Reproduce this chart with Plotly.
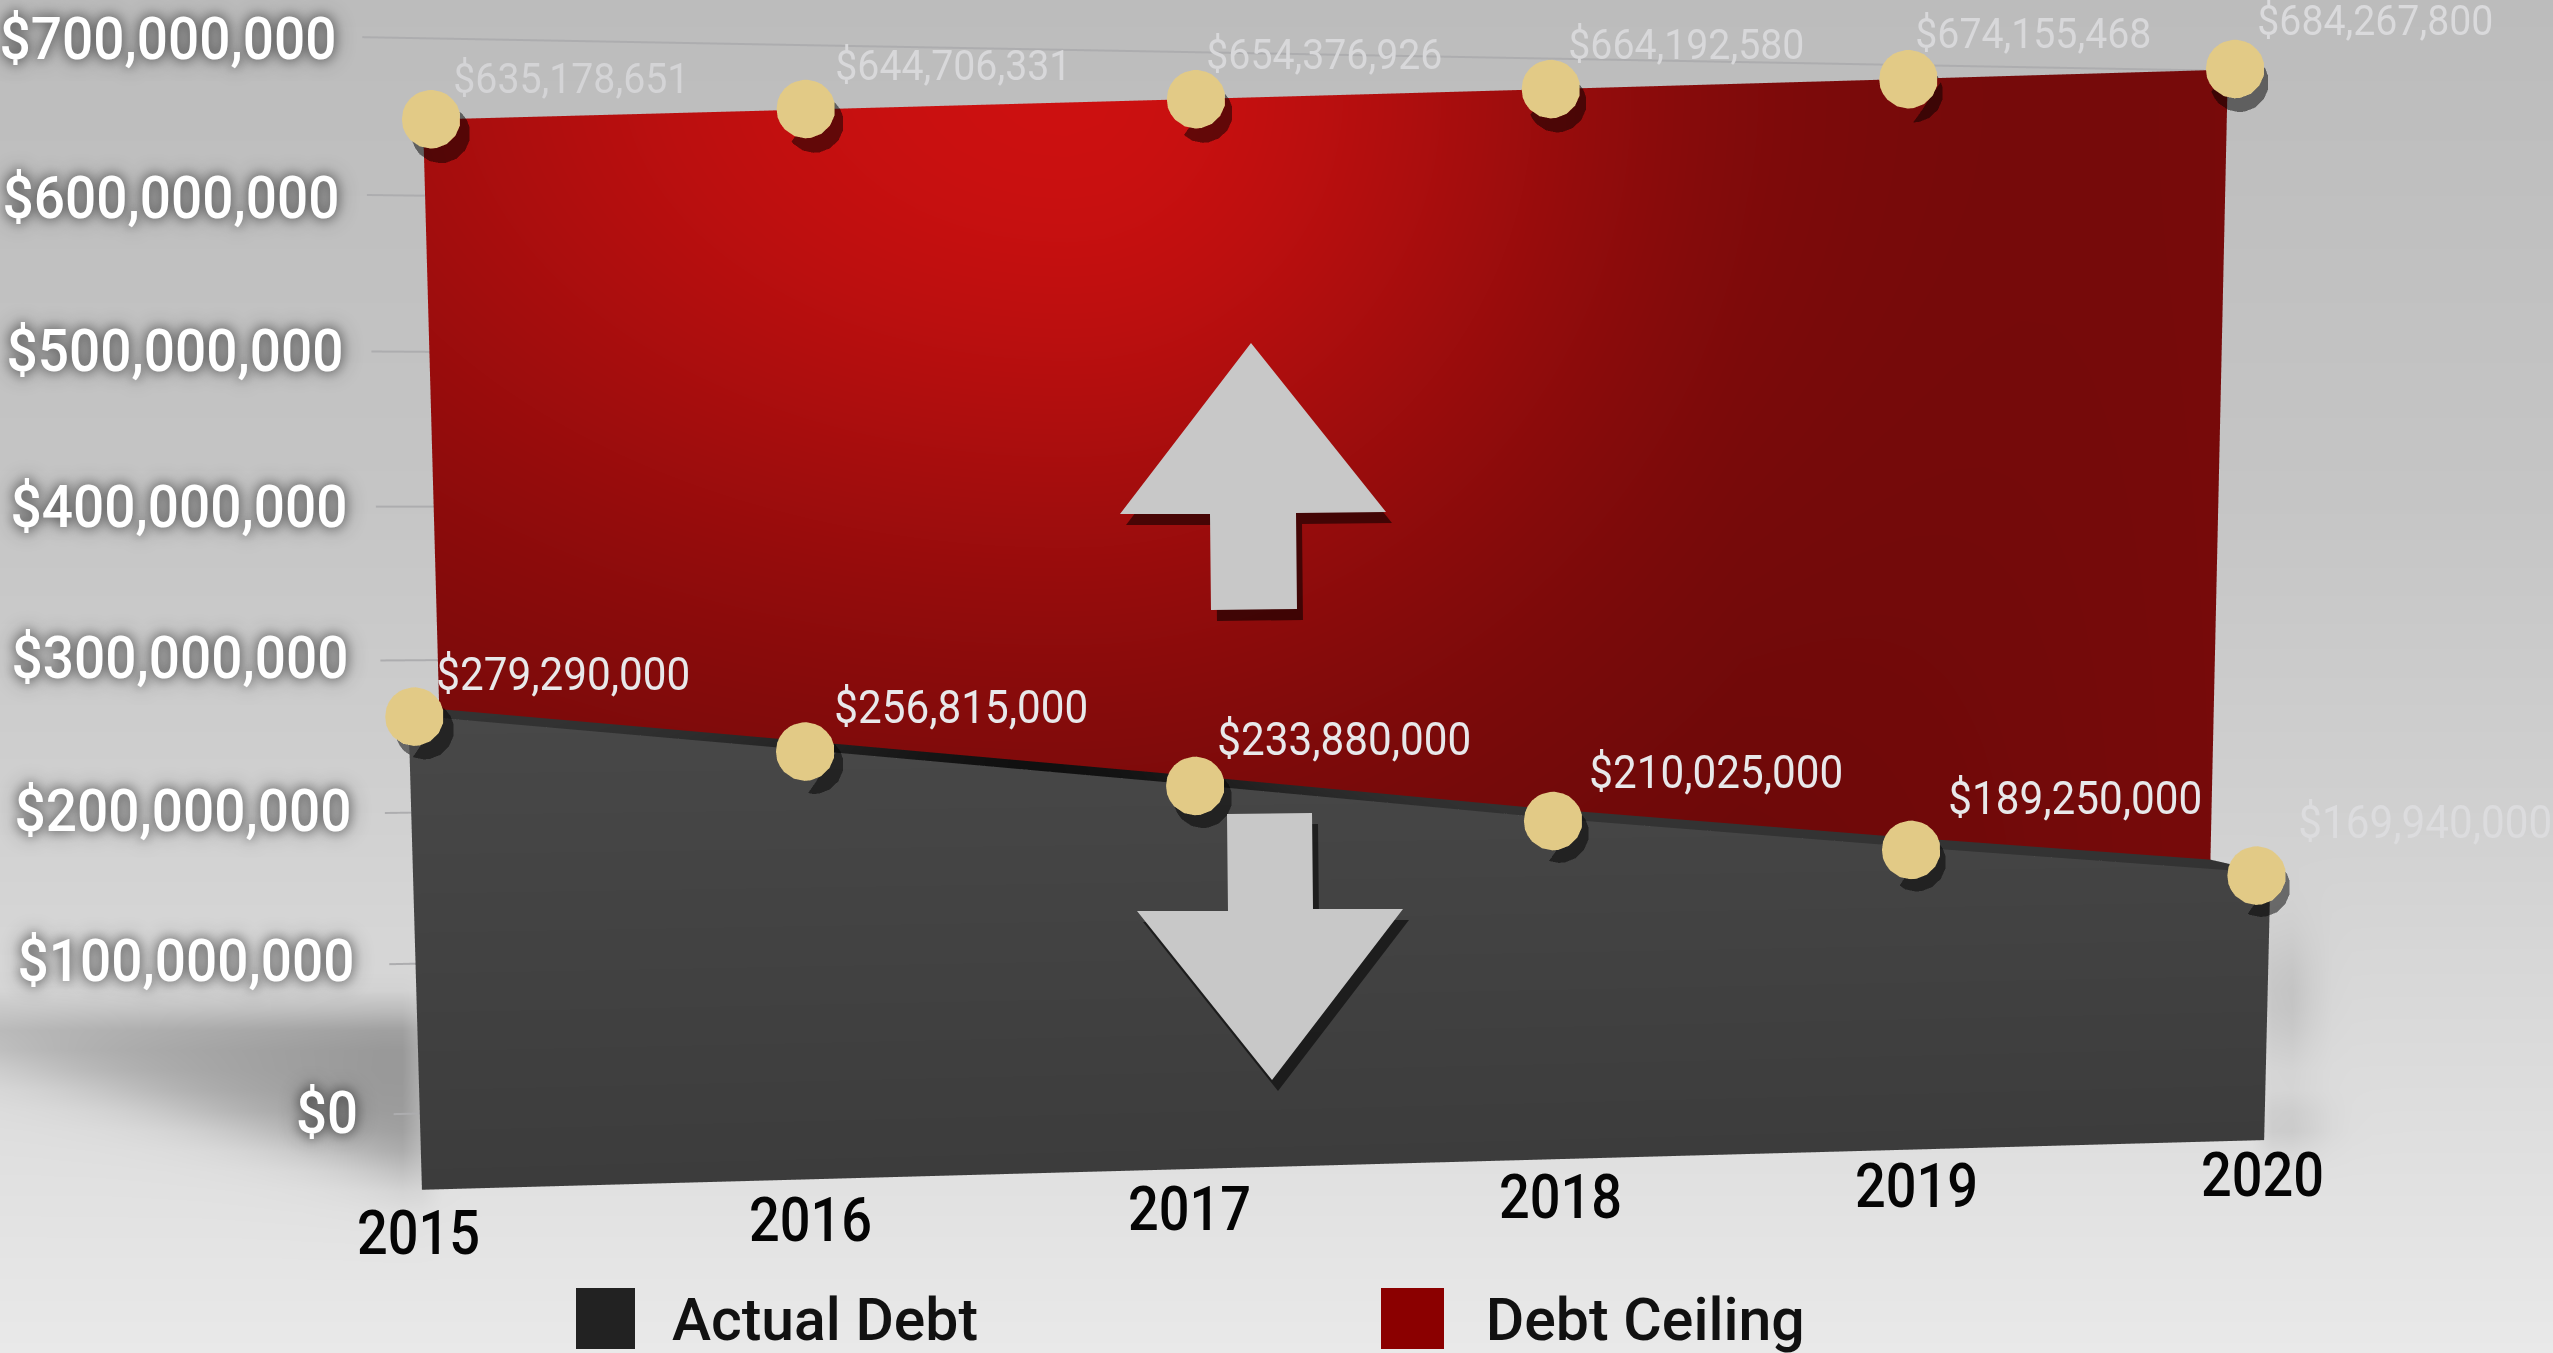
import json
import numpy as np
import plotly.graph_objects as go

W, H = 2553, 1353

# ---------- data ----------
years = [2015, 2016, 2017, 2018, 2019, 2020]
actual_debt = [279290000, 256815000, 233880000, 210025000, 189250000, 169940000]
debt_ceiling = [635178651, 644706331, 654376926, 664192580, 674155468, 684267800]
tick_values = [0, 100000000, 200000000, 300000000, 400000000, 500000000, 600000000, 700000000]
tick_labels = ["$0", "$100,000,000", "$200,000,000", "$300,000,000", "$400,000,000",
               "$500,000,000", "$600,000,000", "$700,000,000"]
actual_labels = ["$279,290,000", "$256,815,000", "$233,880,000", "$210,025,000", "$189,250,000", "$169,940,000"]
ceiling_labels = ["$635,178,651", "$644,706,331", "$654,376,926", "$664,192,580", "$674,155,468", "$684,267,800"]
legend_names = ["Actual Debt", "Debt Ceiling"]

# ---------- scene geometry (a tilted camera looking at three parallel layers) ----------
AX = 0.32361                 # scene units per year
DEPTH_ACTUAL, DEPTH_CEILING, DEPTH_GRID = 0.0, 0.07832, 0.17988
GRID_X = (2014.6907, 2020.1199)
GRID_LIFT = 7e6              # the back wall sits slightly above the front layers in the original
X_RANGE, Z_RANGE = (2014.0, 2021.0), (-5e6, 7.2e8)
Y_RANGE = (-0.01, DEPTH_GRID + 0.01)
EYE = np.array([-0.17612, -1.39359, -0.01034])
CENTER = np.array([-0.03270, 0.77522, -0.10960])
UP = np.array([0.07307, 1.03954, 1.0])
FOCAL = (H / 2) / np.tan(np.pi / 8)

box_center = np.array([AX * (sum(X_RANGE) / 2 - 2017.5), sum(Y_RANGE) / 2, sum(Z_RANGE) / 2 / 7e8 - 0.5])
eye, center = EYE - box_center, CENTER - box_center


def screen(x, y, z):
    """Pixel position of a scene point; used only to nudge text labels."""
    fw = CENTER - EYE
    fw = fw / np.linalg.norm(fw)
    r = np.cross(fw, UP)
    r = r / np.linalg.norm(r)
    u = np.cross(r, fw)
    d = np.array([AX * (x - 2017.5), y, z / 7e8 - 0.5]) - EYE
    zc = d @ fw
    return W / 2 + FOCAL * (d @ r) / zc, H / 2 - FOCAL * (d @ u) / zc


FONT = "Roboto, sans-serif"
fig = go.Figure()

# ---------- backdrop ----------
bx = np.linspace(0, W, 128)
by = np.linspace(0, H, 68)
gx, gy = np.meshgrid(bx, by)
shade = np.interp(gy, [0, 500, 800, 1100, 1353], [188, 197, 208, 221, 233])


def step(v, s):
    return 1 / (1 + np.exp(-v / s))


wedge_bottom = 1062 + gx / 420 * 112
wedge = step(gy - 1012, 10) * step(wedge_bottom - gy, 16) * step(425 - gx, 6) * (42 + gx / 420 * 28)
shade = shade - wedge
shade = shade - 22 * np.exp(-((gx - 2285) / 30) ** 2 - ((gy - 1000) / 70) ** 2) * (gx > 2262)
shade = shade - 20 * np.exp(-((gx - 2285) / 40) ** 2 - ((gy - 1125) / 28) ** 2) * (gx > 2262)
fig.add_trace(go.Heatmap(x=bx, y=by, z=np.round(shade, 1), zmin=0, zmax=255, zsmooth="best",
                         colorscale=[[0, "rgb(0,0,0)"], [1, "rgb(255,255,255)"]],
                         showscale=False, hoverinfo="skip"))

# ---------- filled layers ----------
seg = 10
xs = np.linspace(years[0], years[-1], (len(years) - 1) * seg + 1)
low = np.interp(xs, years, actual_debt)
high = np.interp(xs, years, debt_ceiling)
rows = np.linspace(0, 1, 31)
flat = dict(ambient=1, diffuse=0, specular=0, roughness=1, fresnel=0)

xg = np.tile(xs, (len(rows), 1))
xg_ceiling = xg - 0.013                          # small registration tweaks of the two sheets
xg_actual = xg + 0.015 * (2020 - xg) / 5
# ceiling layer (from the debt line up to the ceiling line)
zr = low + np.outer(rows, high - low)
sigx = np.where(xg < 2016.7, 2.4, 1.55)
glow = np.exp(-((xg - 2016.7) / sigx) ** 2 - ((zr - 6.6e8) / 3.4e8) ** 2)
glow = glow + 0.12 * np.clip((xg - 2018.6) / 1.4, 0, 1)
fig.add_trace(go.Surface(x=xg_ceiling, y=np.full(xg.shape, DEPTH_CEILING), z=zr, surfacecolor=glow, cmin=0, cmax=1,
                         colorscale=[[0, "#6b0909"], [1, "#cc1010"]], showscale=False, lighting=flat,
                         hoverinfo="skip"))
# debt layer (from zero up to the debt line)
zg = np.outer(rows, low)
tone = zg / 2.8e8
fig.add_trace(go.Surface(x=xg_actual, y=np.full(xg.shape, DEPTH_ACTUAL), z=zg, surfacecolor=tone, cmin=0, cmax=1,
                         colorscale=[[0, "#3c3c3c"], [1, "#484848"]], showscale=False, lighting=flat,
                         hoverinfo="skip"))
# top face joining the two layers
fig.add_trace(go.Surface(x=np.vstack([xg_actual[0], xg_ceiling[0]]),
                         y=np.array([[DEPTH_ACTUAL] * len(xs), [DEPTH_CEILING] * len(xs)]),
                         z=np.tile(low, (2, 1)), surfacecolor=np.tile(np.exp(-((xs - 2016.6) / 0.7) ** 2), (2, 1)),
                         cmin=0, cmax=1, colorscale=[[0, "#333333"], [1, "#101010"]], showscale=False,
                         lighting=flat, hoverinfo="skip"))

# ---------- gridlines on the back wall ----------
for t in tick_values:
    fig.add_trace(go.Scatter3d(x=list(GRID_X), y=[DEPTH_GRID] * 2, z=[t + GRID_LIFT] * 2, mode="lines",
                               line=dict(color="#adadaf", width=4), hoverinfo="skip"))

# ---------- markers with drop shadows (hand-placed in the original, hence the small nudges) ----------
ceiling_nudge = [0.013, -0.009, 0.04, 0.022, 0.04, -0.004]
actual_nudge = [0.035, 0.013, 0.022, -0.022, -0.035, -0.053]
for values, depth, nudge in ((debt_ceiling, DEPTH_CEILING, ceiling_nudge), (actual_debt, DEPTH_ACTUAL, actual_nudge)):
    fig.add_trace(go.Scatter3d(x=[y + n + 0.02 for y, n in zip(years, nudge)], y=[depth - 0.002] * 6,
                               z=[v - 8e6 for v in values], mode="markers",
                               marker=dict(size=34, color="#000000", opacity=0.5, line=dict(width=0)),
                               hoverinfo="skip"))
    fig.add_trace(go.Scatter3d(x=[y + n for y, n in zip(years, nudge)], y=[depth - 0.005] * 6, z=values,
                               mode="markers", marker=dict(size=34, color="#e2ca86", line=dict(width=0)),
                               hoverinfo="skip"))

# ---------- text ----------
annotations = []
text_widths = {}


def label(x, y, z, text, cx, cy, size, color, width, weight=400, shadow=None):
    sx, sy = screen(x, y, z)
    font = dict(family=FONT, size=size, color=color, weight=weight)
    if shadow:
        font["shadow"] = shadow
    annotations.append(dict(x=x, y=y, z=z, text=text, showarrow=False, xanchor="center", yanchor="middle",
                            xshift=cx - sx, yshift=sy - cy, font=font))
    text_widths[text] = width


# label positions in pixels: left edge / centre line
ceiling_pos = [(453, 78), (835, 65), (1207, 54), (1568, 44), (1916, 33), (2258, 20)]
actual_pos = [(436, 674), (834, 707), (1218, 739), (1589, 772), (1949, 798), (2299, 822)]
ceiling_color = ["#d4d4d6", "#d8d8da", "#d8d8da", "#d8d8da", "#d8d8da", "#dadadc"]
actual_color = ["#e8e8ea", "#e8e8ea", "#e8e8ea", "#e8e8ea", "#e8e8ea", "#dcdcde"]
for i, yr in enumerate(years):
    label(yr, DEPTH_CEILING, debt_ceiling[i], ceiling_labels[i], ceiling_pos[i][0] + 118, ceiling_pos[i][1], 43,
          ceiling_color[i], 236)
    label(yr, DEPTH_ACTUAL, actual_debt[i], actual_labels[i], actual_pos[i][0] + 127, actual_pos[i][1], 46,
          actual_color[i], 254)

tick_pos = [(358, 1113), (354, 961), (351, 811), (348, 658), (347, 506), (343, 350), (339, 197), (336, 38)]
glow_css = "0 0 12px rgba(0,0,0,.55), 0 0 22px rgba(0,0,0,.45)"
for t, txt, p in zip(tick_values, tick_labels, tick_pos):
    w = 62 if t == 0 else 337
    label(GRID_X[0], DEPTH_GRID, t, txt, p[0] - w / 2, p[1], 60, "#ffffff", w, weight=500, shadow=glow_css)

year_pos = [(418, 1233), (810, 1220), (1190, 1208), (1560, 1197), (1917, 1185), (2263, 1174)]
for yr, p in zip(years, year_pos):
    label(yr, DEPTH_ACTUAL, 0, str(yr), *p, 62, "#050505", 123, weight=500)


# ---------- arrows and legend drawn on the page ----------
def path(points, dx=0, dy=0):
    return "M " + " L ".join(f"{(x + dx) / W:.5f},{1 - (y + dy) / H:.5f}" for x, y in points) + " Z"


arrow_up = [(1251, 343), (1386, 512), (1296, 513), (1297, 609), (1211, 610), (1210, 514), (1120, 514)]
arrow_down = [(1227, 814), (1312, 813), (1313, 909), (1403, 909), (1272, 1080), (1137, 911), (1228, 911)]
shapes = []
for arrow in (arrow_up, arrow_down):
    shapes.append(dict(type="path", xref="paper", yref="paper", path=path(arrow, 6, 11), layer="above",
                       fillcolor="rgba(0,0,0,0.55)", line=dict(width=0)))
    shapes.append(dict(type="path", xref="paper", yref="paper", path=path(arrow), layer="above",
                       fillcolor="#c8c8c8", line=dict(width=0)))
legend_boxes = [((576, 1288, 635, 1349), "#222222"), ((1381, 1288, 1444, 1349), "#8b0000")]
for (x0, y0, x1, y1), col in legend_boxes:
    shapes.append(dict(type="rect", xref="paper", yref="paper", x0=x0 / W, x1=x1 / W, y0=1 - y1 / H, y1=1 - y0 / H,
                       fillcolor=col, line=dict(width=0), layer="above"))
page_text = []
for name, left, w in zip(legend_names, (672, 1486), (306, 319)):
    page_text.append(dict(xref="paper", yref="paper", x=(left + w / 2) / W, y=1 - 1319 / H, text=name, showarrow=False,
                          xanchor="center", yanchor="middle",
                          font=dict(family=FONT, size=60, color="#111111", weight=500)))
    text_widths[name] = w

axis_off = dict(visible=False, showspikes=False)
fig.update_layout(
    width=W, height=H, margin=dict(l=0, r=0, t=0, b=0), showlegend=False, paper_bgcolor="#d0d0d0",
    plot_bgcolor="rgba(0,0,0,0)", hovermode=False,
    xaxis=dict(visible=False, range=[0, W], domain=[0, 1]),
    yaxis=dict(visible=False, range=[H, 0], domain=[0, 1]),
    shapes=shapes, annotations=page_text,
    scene=dict(
        domain=dict(x=[0, 1], y=[0, 1]), aspectmode="manual", bgcolor="rgba(0,0,0,0)",
        aspectratio=dict(x=AX * (X_RANGE[1] - X_RANGE[0]), y=Y_RANGE[1] - Y_RANGE[0], z=(Z_RANGE[1] - Z_RANGE[0]) / 7e8),
        camera=dict(eye=dict(x=eye[0], y=eye[1], z=eye[2]), center=dict(x=center[0], y=center[1], z=center[2]),
                    up=dict(x=UP[0], y=UP[1], z=UP[2]), projection=dict(type="perspective")),
        xaxis=dict(range=list(X_RANGE), **axis_off),
        yaxis=dict(range=list(Y_RANGE), **axis_off),
        zaxis=dict(range=list(Z_RANGE), **axis_off),
        annotations=annotations,
    ),
)

# The reference lettering is a condensed face; squeeze the installed one to the same widths.
squeeze = """
document.body.style.margin='0';document.body.style.overflow='hidden';
var widths=%s;
function squeeze(){document.querySelectorAll('.annotation-text').forEach(function(t){
  var w=widths[t.textContent];
  if(w){t.setAttribute('textLength',w);t.setAttribute('lengthAdjust','spacingAndGlyphs');}
});}
squeeze();var n=0;var h=setInterval(function(){squeeze();if(++n>60)clearInterval(h);},100);
""" % json.dumps(text_widths)
fig.write_html("out.html", config=dict(displayModeBar=False), post_script=squeeze)
